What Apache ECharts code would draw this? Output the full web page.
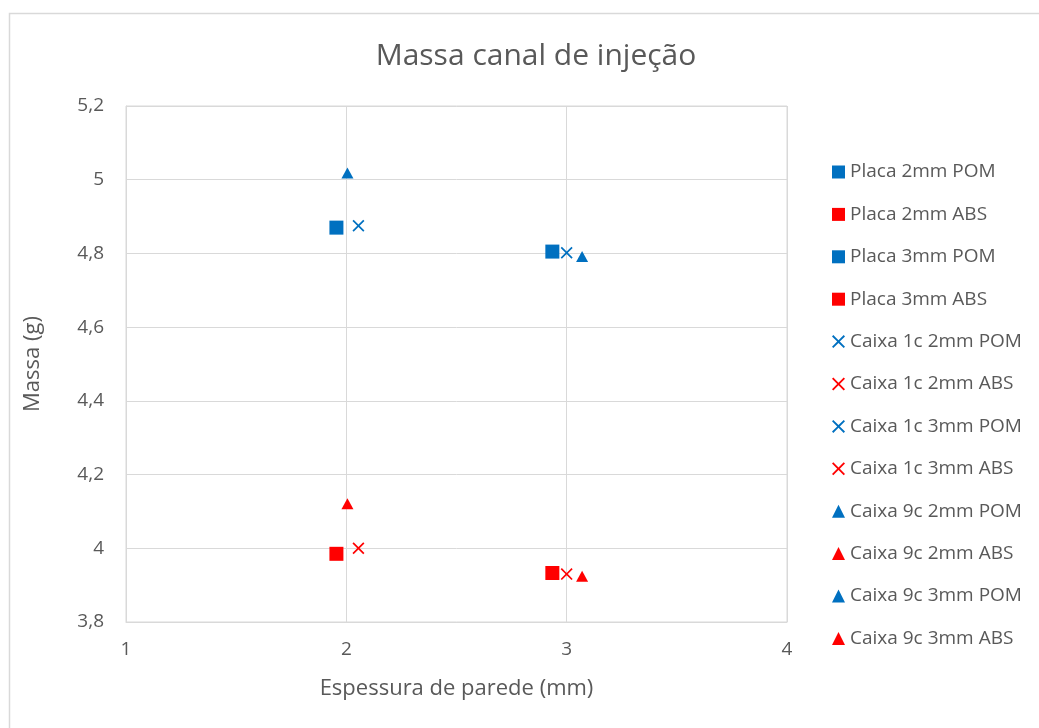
<!DOCTYPE html>
<html>
<head>
<meta charset="utf-8">
<title>Massa canal de injeção</title>
<script src="https://cdn.jsdelivr.net/npm/echarts@6/dist/echarts.min.js"></script>
<style>
  html, body { margin: 0; padding: 0; background: #ffffff; }
  #chart { width: 1039px; height: 728px; }
</style>
</head>
<body>
<div id="chart"></div>
<script>
// Series names, in legend order
const seriesNames = [
  'Placa 2mm POM', 'Placa 2mm ABS', 'Placa 3mm POM', 'Placa 3mm ABS',
  'Caixa 1c 2mm POM', 'Caixa 1c 2mm ABS', 'Caixa 1c 3mm POM', 'Caixa 1c 3mm ABS',
  'Caixa 9c 2mm POM', 'Caixa 9c 2mm ABS', 'Caixa 9c 3mm POM', 'Caixa 9c 3mm ABS'
];
// [espessura (mm), massa (g)] for each series
const placa2POM = [[1.955, 4.870]];
const placa2ABS = [[1.955, 3.985]];
const placa3POM = [[2.935, 4.805]];
const placa3ABS = [[2.935, 3.933]];
const caixa1c2POM = [[2.055, 4.875]];
const caixa1c2ABS = [[2.055, 4.000]];
const caixa1c3POM = [[3.000, 4.802]];
const caixa1c3ABS = [[3.000, 3.930]];
const caixa9c2POM = [[2.005, 5.018]];
const caixa9c2ABS = [[2.005, 4.121]];
const caixa9c3POM = [[3.070, 4.792]];
const caixa9c3ABS = [[3.070, 3.924]];
const seriesData = [
  placa2POM, placa2ABS, placa3POM, placa3ABS,
  caixa1c2POM, caixa1c2ABS, caixa1c3POM, caixa1c3ABS,
  caixa9c2POM, caixa9c2ABS, caixa9c3POM, caixa9c3ABS
];
// Axis ranges
const xTicks = [1, 2, 3, 4];
const yTicks = [3.8, 4.0, 4.2, 4.4, 4.6, 4.8, 5.0, 5.2];

const BLUE = '#0070C0';
const RED = '#FF0000';
const TEXT = '#595959';
const GRID = '#D9D9D9';
const FONT = '"Open Sans", "Noto Sans", sans-serif';

// Filled "x" outline used as a marker
const crossPath = 'path://M0,10 L10,0 L50,40 L90,0 L100,10 L60,50 L100,90 L90,100 L50,60 L10,100 L0,90 L40,50 Z';

function markerFor(i) {
  const group = Math.floor(i / 4);
  if (group === 0) return { symbol: 'rect', size: [14, 14] };
  if (group === 1) return { symbol: crossPath, size: [12, 12] };
  return { symbol: 'triangle', size: [12, 11] };
}
function colorFor(i) { return (i % 2 === 0) ? BLUE : RED; }

const series = seriesNames.map((name, i) => {
  const m = markerFor(i);
  return {
    name: name,
    type: 'scatter',
    data: seriesData[i],
    symbol: m.symbol,
    symbolSize: m.size,
    itemStyle: { color: colorFor(i), opacity: 1 },
    emphasis: { disabled: true }
  };
});

const fmt = v => String(Number(v.toFixed(1))).replace('.', ',');

const chart = echarts.init(document.getElementById('chart'), null, { renderer: 'canvas' });
chart.setOption({
  backgroundColor: '#ffffff',
  animation: false,
  title: {
    text: 'Massa canal de injeção',
    left: 531,
    textAlign: 'center',
    top: 36,
    textStyle: { fontFamily: FONT, fontSize: 30, fontWeight: 'normal', color: TEXT }
  },
  grid: {
    left: 126, right: 252, top: 106, bottom: 106,
    show: true, borderColor: GRID, borderWidth: 1
  },
  legend: {
    orient: 'vertical',
    left: 832,
    top: 161,
    padding: 0,
    itemWidth: 13,
    itemHeight: 13,
    itemGap: 20.4,
    textStyle: { fontFamily: FONT, fontSize: 19, color: TEXT, lineHeight: 22, padding: [0, 0, 0, 0] },
    data: seriesNames.map((n, i) => ({ name: n, icon: markerFor(i).symbol }))
  },
  xAxis: {
    type: 'value',
    min: xTicks[0],
    max: xTicks[xTicks.length - 1],
    interval: 1,
    name: 'Espessura de parede (mm)',
    nameLocation: 'middle',
    nameGap: 56,
    nameTextStyle: { fontFamily: FONT, fontSize: 22, color: TEXT },
    axisLine: { show: true, lineStyle: { color: GRID } },
    axisTick: { show: false },
    axisLabel: { fontFamily: FONT, fontSize: 19, color: TEXT, margin: 18, formatter: fmt },
    splitLine: { show: true, lineStyle: { color: GRID, width: 1 } }
  },
  yAxis: {
    type: 'value',
    min: yTicks[0],
    max: yTicks[yTicks.length - 1],
    interval: 0.2,
    name: 'Massa (g)',
    nameLocation: 'middle',
    nameGap: 82,
    nameRotate: 90,
    nameTextStyle: { fontFamily: FONT, fontSize: 22, color: TEXT },
    axisLine: { show: true, lineStyle: { color: GRID } },
    axisTick: { show: false },
    axisLabel: { fontFamily: FONT, fontSize: 19, color: TEXT, margin: 22, formatter: fmt },
    splitLine: { show: true, lineStyle: { color: GRID, width: 1 } }
  },
  graphic: [{
    type: 'rect',
    left: 7, top: 11,
    shape: { width: 1060, height: 740 },
    style: { fill: 'none', stroke: GRID, lineWidth: 1.5 },
    silent: true, z: -1
  }],
  series: series
});
</script>
</body>
</html>
